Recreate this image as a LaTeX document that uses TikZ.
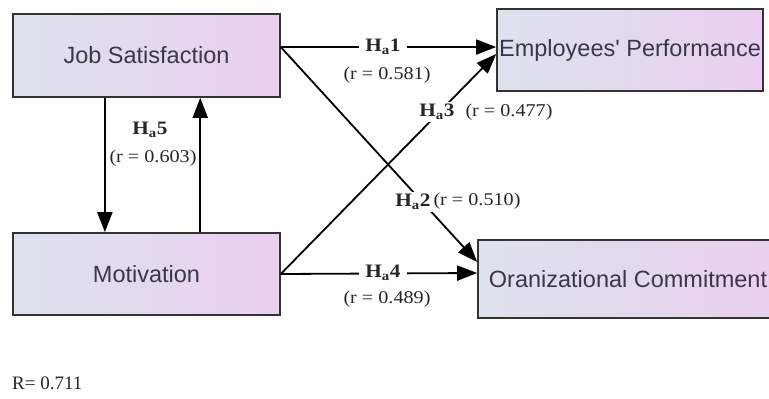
\documentclass[tikz,border=0pt]{standalone}
\usepackage{fontspec}
\setmainfont{Liberation Serif}
\newfontfamily\boxfont{Liberation Sans}
\newfontfamily\lblfont[FakeStretch=1.12]{Liberation Serif}
\usetikzlibrary{arrows.meta,calc}
\definecolor{boxL}{HTML}{DCE3EC}
\definecolor{boxR}{HTML}{EBCFF0}
\definecolor{boxText}{HTML}{3A3848}
\tikzset{
  box/.style={draw=black!80, line width=1.6pt, left color=boxL, right color=boxR,
    inner sep=0pt, font=\boxfont\fontsize{23.5}{28}\selectfont, text=boxText},
  link/.style={line width=1.8pt, -{Triangle[length=20pt,width=15pt]}},
  hyp/.style={font=\lblfont\bfseries\fontsize{19}{22}\selectfont, fill=white, inner xsep=6pt, inner ysep=2pt, text=black!85},
  rval/.style={font=\lblfont\fontsize{18}{21}\selectfont, inner sep=1pt, text=black!85},
}
\begin{document}
\begin{tikzpicture}[x=1pt,y=-1pt]
\useasboundingbox (0,0) rectangle (769,399);
\clip (0,0) rectangle (769,399);

% boxes
\node[box, minimum width=267pt, minimum height=83pt] (js) at (146.5,55.5) {Job Satisfaction};
\node[box, minimum width=267pt, minimum height=82pt] (mot) at (146.5,274) {Motivation};
\node[box, minimum width=266pt, minimum height=82pt] (ep) at (630,50) {Employees' Performance};
\node[box, minimum width=300pt, minimum height=78pt] (oc) at (628,279) {Oranizational Commitment};

% connection points
\coordinate (jsout) at ($(js.north east)!0.4!(js.south east)$);
\coordinate (ep1) at (ep.west |- jsout);
\coordinate (ep3) at ($(ep.west)+(0,4)$);
\coordinate (oc2) at ($(oc.west)+(0,-17)$);
\coordinate (oc4) at ($(oc.west)+(0,-6)$);
\coordinate (jsdown) at ($(js.south west)!0.345!(js.south east)$);
\coordinate (jsup) at ($(js.south west)!0.70!(js.south east)$);

% connectors
\draw[link] (jsout) -- (ep1);
\draw[link] (jsout) -- (oc2);
\draw[link] (mot.east) -- (ep3);
\draw[link] (mot.east) -- (oc4);
\draw[link] (jsdown) -- (jsdown |- mot.north);
\draw[link] (jsup |- mot.north) -- (jsup);

% labels
\node[hyp] (h1) at (383,47) {H\textsubscript{a}1};
\node[rval] (r1) at (387,75) {(r = 0.581)};
\node[hyp] (h3) at (437,112) {H\textsubscript{a}3};
\node[rval] (r3) at (509,112) {(r = 0.477)};
\node[hyp] (h2) at (413,202) {H\textsubscript{a}2};
\node[rval] (r2) at (477,201) {(r = 0.510)};
\node[hyp] (h4) at (383,273) {H\textsubscript{a}4};
\node[rval] (r4) at (387,299) {(r = 0.489)};
\node[hyp, fill=none] (h5) at (150,130) {H\textsubscript{a}5};
\node[rval] (r5) at (153,158) {(r = 0.603)};

\node[anchor=west, font=\fontsize{19}{22}\selectfont, text=black!85, inner sep=0pt] (rr) at (12,383) {R= 0.711};
\end{tikzpicture}
\end{document}
